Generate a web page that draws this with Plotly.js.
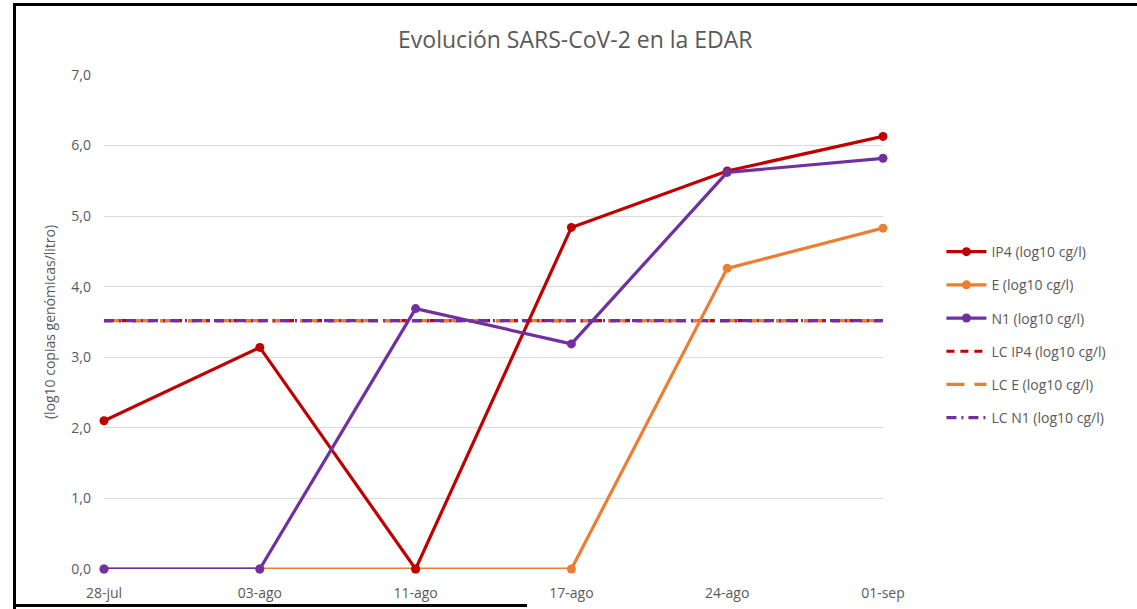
<!DOCTYPE html>
<html>
<head>
<meta charset="utf-8">
<script src="https://cdn.plot.ly/plotly-3.0.1.min.js"></script>
<style>
  html, body { margin: 0; padding: 0; background: #fff; }
  #wrap { position: relative; width: 1137px; height: 609px; overflow: hidden; }
  #chart { position: absolute; left: 0; top: 0; width: 1137px; height: 609px; }
  .bd { position: absolute; background: #000; pointer-events: none; }
</style>
</head>
<body>
<div id="wrap">
  <div id="chart"></div>
  <div class="bd" style="left:13px; top:3px; width:1124px; height:3px;"></div>
  <div class="bd" style="left:13px; top:3px; width:3px; height:606px;"></div>
  <div class="bd" style="left:13px; top:604px; width:514px; height:3px;"></div>
</div>
<script>
const categories = ["28-jul", "03-ago", "11-ago", "17-ago", "24-ago", "01-sep"];
const ip4 = [2.1, 3.14, 0.0, 4.84, 5.64, 6.13];
const e   = [0.0, 0.0, 0.0, 0.0, 4.26, 4.83];
const n1  = [0.0, 0.0, 3.69, 3.19, 5.62, 5.82];
const lcIp4 = [3.52, 3.52, 3.52, 3.52, 3.52, 3.52];
const lcE   = [3.52, 3.52, 3.52, 3.52, 3.52, 3.52];
const lcN1  = [3.52, 3.52, 3.52, 3.52, 3.52, 3.52];
const names = ["IP4 (log10 cg/l)", "E (log10 cg/l)", "N1 (log10 cg/l)",
               "LC IP4 (log10 cg/l)", "LC E (log10 cg/l)", "LC N1 (log10 cg/l)"];

const RED = "#c00000", ORANGE = "#ed7d31", PURPLE = "#7030a0";
const idx = categories.map((c, i) => i);

function lineTrace(y, name, color, group, withMarkers, dash) {
  return {
    x: idx, y: y, name: name, legendgroup: group,
    type: "scatter",
    mode: withMarkers ? "lines+markers" : "lines",
    line: { color: color, width: 3.2, dash: dash || "solid" },
    marker: { color: color, size: 9 },
    cliponaxis: false,
    hoverinfo: "skip"
  };
}

const traces = [
  lineTrace(lcIp4, names[3], RED, "g4", false, "8px,6px"),
  lineTrace(lcE, names[4], ORANGE, "g5", false, "18px,10px"),
  lineTrace(lcN1, names[5], PURPLE, "g6", false, "10px,5px,2px,5px"),
  lineTrace(e, names[1], ORANGE, "g2", true),
  lineTrace(ip4, names[0], RED, "g1", true),
  lineTrace(n1, names[2], PURPLE, "g3", true)
];
traces[4].legendrank = 1;
traces[3].legendrank = 2;
traces[5].legendrank = 3;
traces[0].legendrank = 4;
traces[1].legendrank = 5;
traces[2].legendrank = 6;

const GRAY = "#595959";
const layout = {
  width: 1137, height: 609,
  margin: { l: 104, r: 254, t: 75, b: 40 },
  paper_bgcolor: "#ffffff",
  plot_bgcolor: "#ffffff",
  separators: ",.",
  font: { family: "Open Sans, sans-serif", color: GRAY, size: 14 },
  title: {
    text: "Evolución SARS-CoV-2 en la EDAR",
    font: { family: "Open Sans, sans-serif", size: 23, color: GRAY },
    x: 0.506, xref: "container", xanchor: "center",
    y: 0.935, yref: "container", yanchor: "middle"
  },
  xaxis: {
    range: [0, 5],
    tickmode: "array", tickvals: idx, ticktext: categories,
    showgrid: false, zeroline: false, showline: false,
    ticks: "", ticklen: 0,
    ticklabelstandoff: 14,
    tickfont: { size: 14, color: GRAY },
    fixedrange: true
  },
  yaxis: {
    range: [0, 7],
    dtick: 1, tick0: 0, tickformat: ".1f",
    showgrid: true, gridcolor: "#d9d9d9", gridwidth: 1,
    zeroline: false, showline: false, ticks: "",
    ticklabelstandoff: 12,
    tickfont: { size: 14, color: GRAY },
    title: { text: "(log10 copias genómicas/litro)", font: { size: 14, color: GRAY }, standoff: 12 },
    fixedrange: true
  },
  showlegend: true,
  legend: {
    x: 1.075, xanchor: "left",
    y: 0.674, yanchor: "top",
    font: { size: 14, color: GRAY },
    tracegroupgap: 12,
    itemwidth: 40,
    bgcolor: "rgba(0,0,0,0)"
  }
};

Plotly.newPlot("chart", traces, layout, { displayModeBar: false, staticPlot: true });
</script>
</body>
</html>
